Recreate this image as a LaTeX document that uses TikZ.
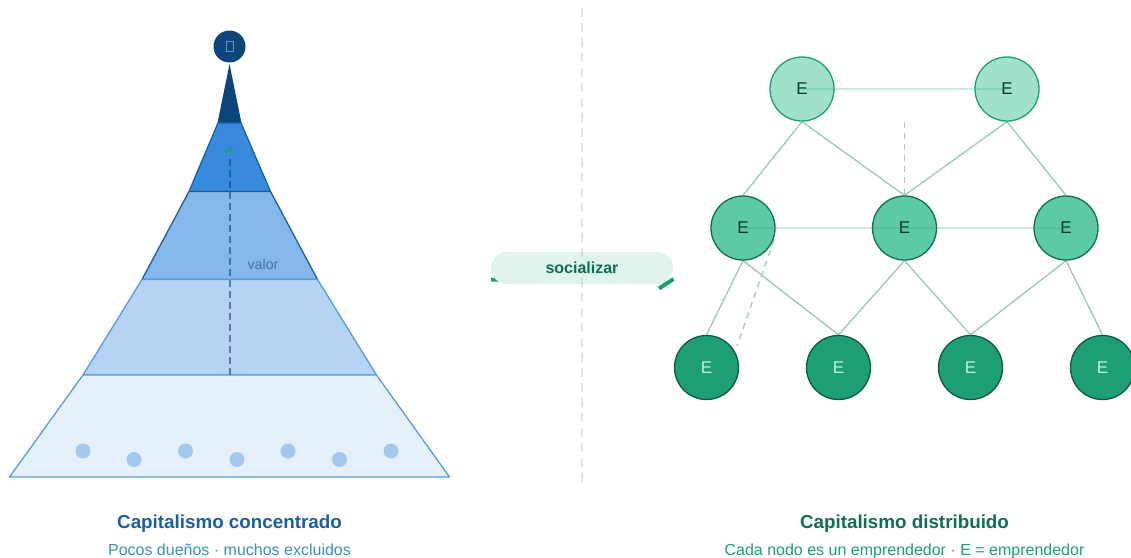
\documentclass[tikz,border=0pt]{standalone}
\usepackage{fontspec}
\setmainfont{Liberation Sans}
\usetikzlibrary{backgrounds,arrows.meta}
\definecolor{navy}{HTML}{0C447C}
\definecolor{bluedark}{HTML}{185FA5}
\definecolor{bluemid}{HTML}{378ADD}
\definecolor{bluesoft}{HTML}{85B7EB}
\definecolor{bluepale}{HTML}{B5D4F4}
\definecolor{bluebase}{HTML}{E5F0FB}
\definecolor{bluedot}{HTML}{A3C8F0}
\definecolor{bluesub}{HTML}{3A8FBE}
\definecolor{greenpale}{HTML}{9FE1CB}
\definecolor{greenmid}{HTML}{5DCAA5}
\definecolor{greendark}{HTML}{1D9E75}
\definecolor{greendeep}{HTML}{0F6E56}
\definecolor{greenink}{HTML}{04342C}
\definecolor{greenpill}{HTML}{E1F3ED}
\tikzset{
  layer/.style={line width=1.3pt,line join=round},
  enode/.style={circle,minimum size=64pt,inner sep=0pt,font=\fontsize{17}{20}\selectfont,line width=1.3pt},
  etop/.style={enode,draw=greendark,fill=greenpale,text=greenink},
  emid/.style={enode,draw=greendeep,fill=greenmid,text=greenink},
  elow/.style={enode,draw=greendeep!80!black,fill=greendark,text=greenpale!60!white},
  link/.style={draw=greendeep!40,line width=1.3pt},
  peer/.style={draw=greendark,opacity=0.22,line width=2.5pt},
  ghost/.style={draw=greendeep!35,line width=1.5pt,dash pattern=on 6pt off 5pt},
  person/.style={circle,fill=bluedot,minimum size=15pt,inner sep=0pt},
  title/.style={anchor=base,font=\fontsize{18.8}{24}\selectfont\bfseries},
  sub/.style={anchor=base,font=\fontsize{16}{20}\selectfont}
}
\begin{document}
\begin{tikzpicture}[x=1pt,y=-1pt]
\useasboundingbox (0,0) rectangle (1131,557);
\fill[navy] (229.5,64) -- (241.5,123) -- (217.5,123) -- cycle;
\draw[layer,fill=bluemid,draw=bluedark] (218,123) -- (241,123) -- (270.5,191.5) -- (189,191.5) -- cycle;
\draw[layer,fill=bluesoft,draw=bluedark] (189,191.5) -- (270.5,191.5) -- (317.5,279.5) -- (142,279.5) -- cycle;
\draw[layer,fill=bluepale,draw=bluemid!85!white] (142,279.5) -- (317.5,279.5) -- (376.5,375) -- (83,375) -- cycle;
\draw[layer,fill=bluebase,draw=bluemid!85!white] (83,375) -- (376.5,375) -- (449.5,477) -- (9.5,477) -- cycle;
\node[circle,fill=navy,minimum size=32pt,inner sep=0pt] (owner) at (229.5,46.5) {};
\node[draw=bluesoft!70!navy,line width=0.8pt,minimum width=7pt,minimum height=10pt,inner sep=0pt] (ownermark) at (owner) {};
\foreach\n/\x/\y in {1/83/451,2/134/459.5,3/185.5/451,4/237/459.5,5/288/451,6/339.5/459.5,7/391/451} {
  \node[person] (p\n) at (\x,\y) {};
}
\coordinate (valuefoot) at (229.5,375);
\coordinate (valuehead) at (229.5,155);
\draw[navy,line width=2pt,opacity=0.6,dash pattern=on 7pt off 4pt] (valuefoot) -- (valuehead);
\draw[greendark,line width=1.8pt] (225.3,153) -- (229.5,148) -- (233.7,153);
\node[text=navy!75,font=\fontsize{14.2}{18}\selectfont] (valor) at (263,264) {valor};
\node[title,text=bluedark] (lefttitle) at (229.5,528) {Capitalismo concentrado};
\node[sub,text=bluesub] (leftsub) at (229.5,555) {Pocos dueños · muchos excluidos};

\fill[greendark] (491,277.5) -- (498,279) -- (501,281.5) -- (491,281.5) -- cycle;
\draw[greendark,line width=4pt] (659,288.5) -- (673.5,279);
\node[fill=greenpill,rounded corners=16pt,minimum width=182pt,minimum height=32pt,inner sep=0pt,text=greendeep,font=\fontsize{16}{20}\selectfont\bfseries] (social) at (582,268) {socializar};
\coordinate (cuttop) at (581.5,8);
\coordinate (cutfoot) at (581.5,485);
\draw[gray,opacity=0.2,line width=2pt,dash pattern=on 9pt off 6pt] (cuttop) -- (cutfoot);

\foreach\n/\x in {a/802,b/1007} {
  \node[etop] (t\n) at (\x,89) {E};
}
\foreach\n/\x in {a/743,b/904.5,c/1066} {
  \node[emid] (m\n) at (\x,228) {E};
}
\foreach\n/\x in {a/706.5,b/838.5,c/970.5,d/1102.5} {
  \node[elow] (l\n) at (\x,367.5) {E};
}
\coordinate (ghostatop) at (904.5,122);
\coordinate (ghostafoot) at (904.5,195);
\coordinate (ghostbtop) at (774,240);
\coordinate (ghostbfoot) at (737,346);
\begin{scope}[on background layer]
\foreach\a/\b in {ta/ma,ta/mb,tb/mb,tb/mc,ma/la,ma/lb,mb/lb,mb/lc,mc/lc,mc/ld} {
  \draw[link] (\a.south) -- (\b.north);
}
\draw[ghost] (ghostatop) -- (ghostafoot);
\draw[ghost] (ghostbtop) -- (ghostbfoot);
\end{scope}
\draw[peer] (ta.center) -- (tb.center);
\draw[peer] (ma.center) -- (mc.center);
\node[title,text=greendeep] (righttitle) at (904.5,528) {Capitalismo distribuido};
\node[sub,text=greendark] (rightsub) at (904.5,555) {Cada nodo es un emprendedor · E = emprendedor};
\end{tikzpicture}
\end{document}
